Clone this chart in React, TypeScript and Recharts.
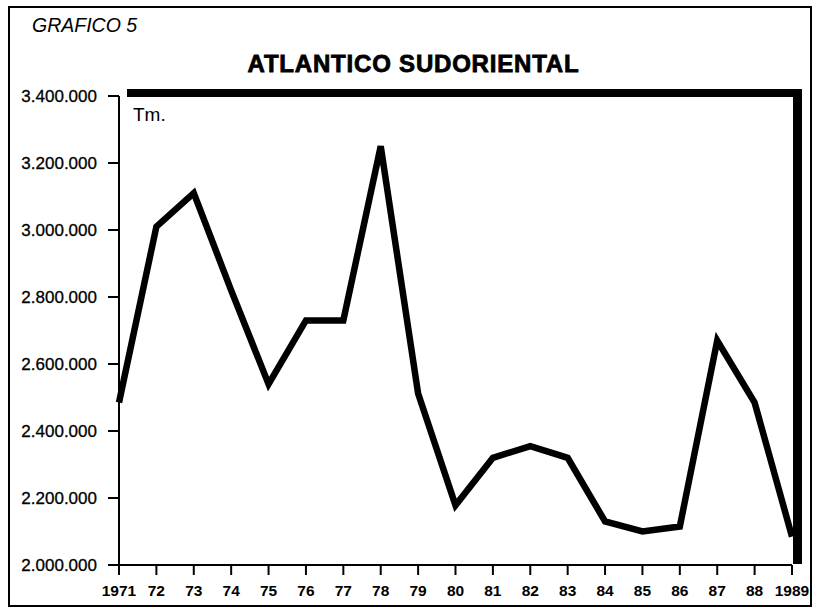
import React from "react";
import { LineChart, Line, XAxis, YAxis } from "recharts";

const years = ["1971", "72", "73", "74", "75", "76", "77", "78", "79", "80", "81", "82", "83", "84", "85", "86", "87", "88", "1989"];
const tonnes = [2485000, 3010000, 3110000, 2820000, 2540000, 2730000, 2730000, 3250000, 2512000, 2178000, 2320000, 2355000, 2320000, 2130000, 2100000, 2115000, 2670000, 2485000, 2085000];
const yTicks = [2000000, 2200000, 2400000, 2600000, 2800000, 3000000, 3200000, 3400000];

const data = years.map((y, i) => ({ year: y, value: tonnes[i] }));

const fmt = (v: number) => String(v).replace(/\B(?=(\d{3})+(?!\d))/g, ".");

export default function App() {
  return (
    <div style={{ position: "absolute", left: 0, top: 0, width: 815, height: 613, background: "#fff", fontFamily: "'Liberation Sans', Arial, sans-serif" }}>
      <div style={{ position: "absolute", left: 8, top: 6, width: 800, height: 597, border: "2px solid #000" }} />
      <div style={{ position: "absolute", left: 32, top: 13, fontSize: 19.5, fontStyle: "italic", color: "#000", lineHeight: "24px" }}>GRAFICO 5</div>
      <div style={{ position: "absolute", left: 0, width: 827, top: 50, textAlign: "center", fontSize: 24, fontWeight: "bold", letterSpacing: 0.8, WebkitTextStroke: "0.8px #000", color: "#000", lineHeight: "28px" }}>ATLANTICO SUDORIENTAL</div>
      <div style={{ position: "absolute", left: 0, top: 0 }}>
        <LineChart width={815} height={613} data={data} margin={{ top: 96, right: 23, left: 0, bottom: 8 }}>
          <XAxis
            dataKey="year"
            height={40}
            padding={{ left: 0, right: 0 }}
            interval={0}
            tickSize={10}
            tickMargin={10}
            axisLine={{ stroke: "#000", strokeWidth: 2 }}
            tickLine={{ stroke: "#000", strokeWidth: 2 }}
            tick={{ fill: "#000", fontSize: 15.5, fontWeight: "bold", fontFamily: "'Liberation Sans', Arial, sans-serif" }}
          />
          <YAxis
            width={119}
            domain={[2000000, 3400000]}
            ticks={yTicks}
            interval={0}
            tickFormatter={fmt}
            tickSize={11}
            tickMargin={11}
            axisLine={{ stroke: "#000", strokeWidth: 2 }}
            tickLine={{ stroke: "#000", strokeWidth: 2 }}
            tick={{ fill: "#000", fontSize: 17, stroke: "#000", strokeWidth: 0.3, fontFamily: "'Liberation Sans', Arial, sans-serif" }}
          />
          <Line
            type="linear"
            dataKey="value"
            stroke="#000"
            strokeWidth={6.5}
            strokeLinejoin="miter"
            dot={false}
            activeDot={false}
            isAnimationActive={false}
          />
        </LineChart>
      </div>
      <div style={{ position: "absolute", left: 127, top: 89, width: 675, height: 475, borderTop: "8px solid #000", borderRight: "9px solid #000", boxSizing: "border-box", pointerEvents: "none" }} />
      <div style={{ position: "absolute", left: 133, top: 104, fontSize: 19, color: "#000", lineHeight: "22px" }}>Tm.</div>
    </div>
  );
}
